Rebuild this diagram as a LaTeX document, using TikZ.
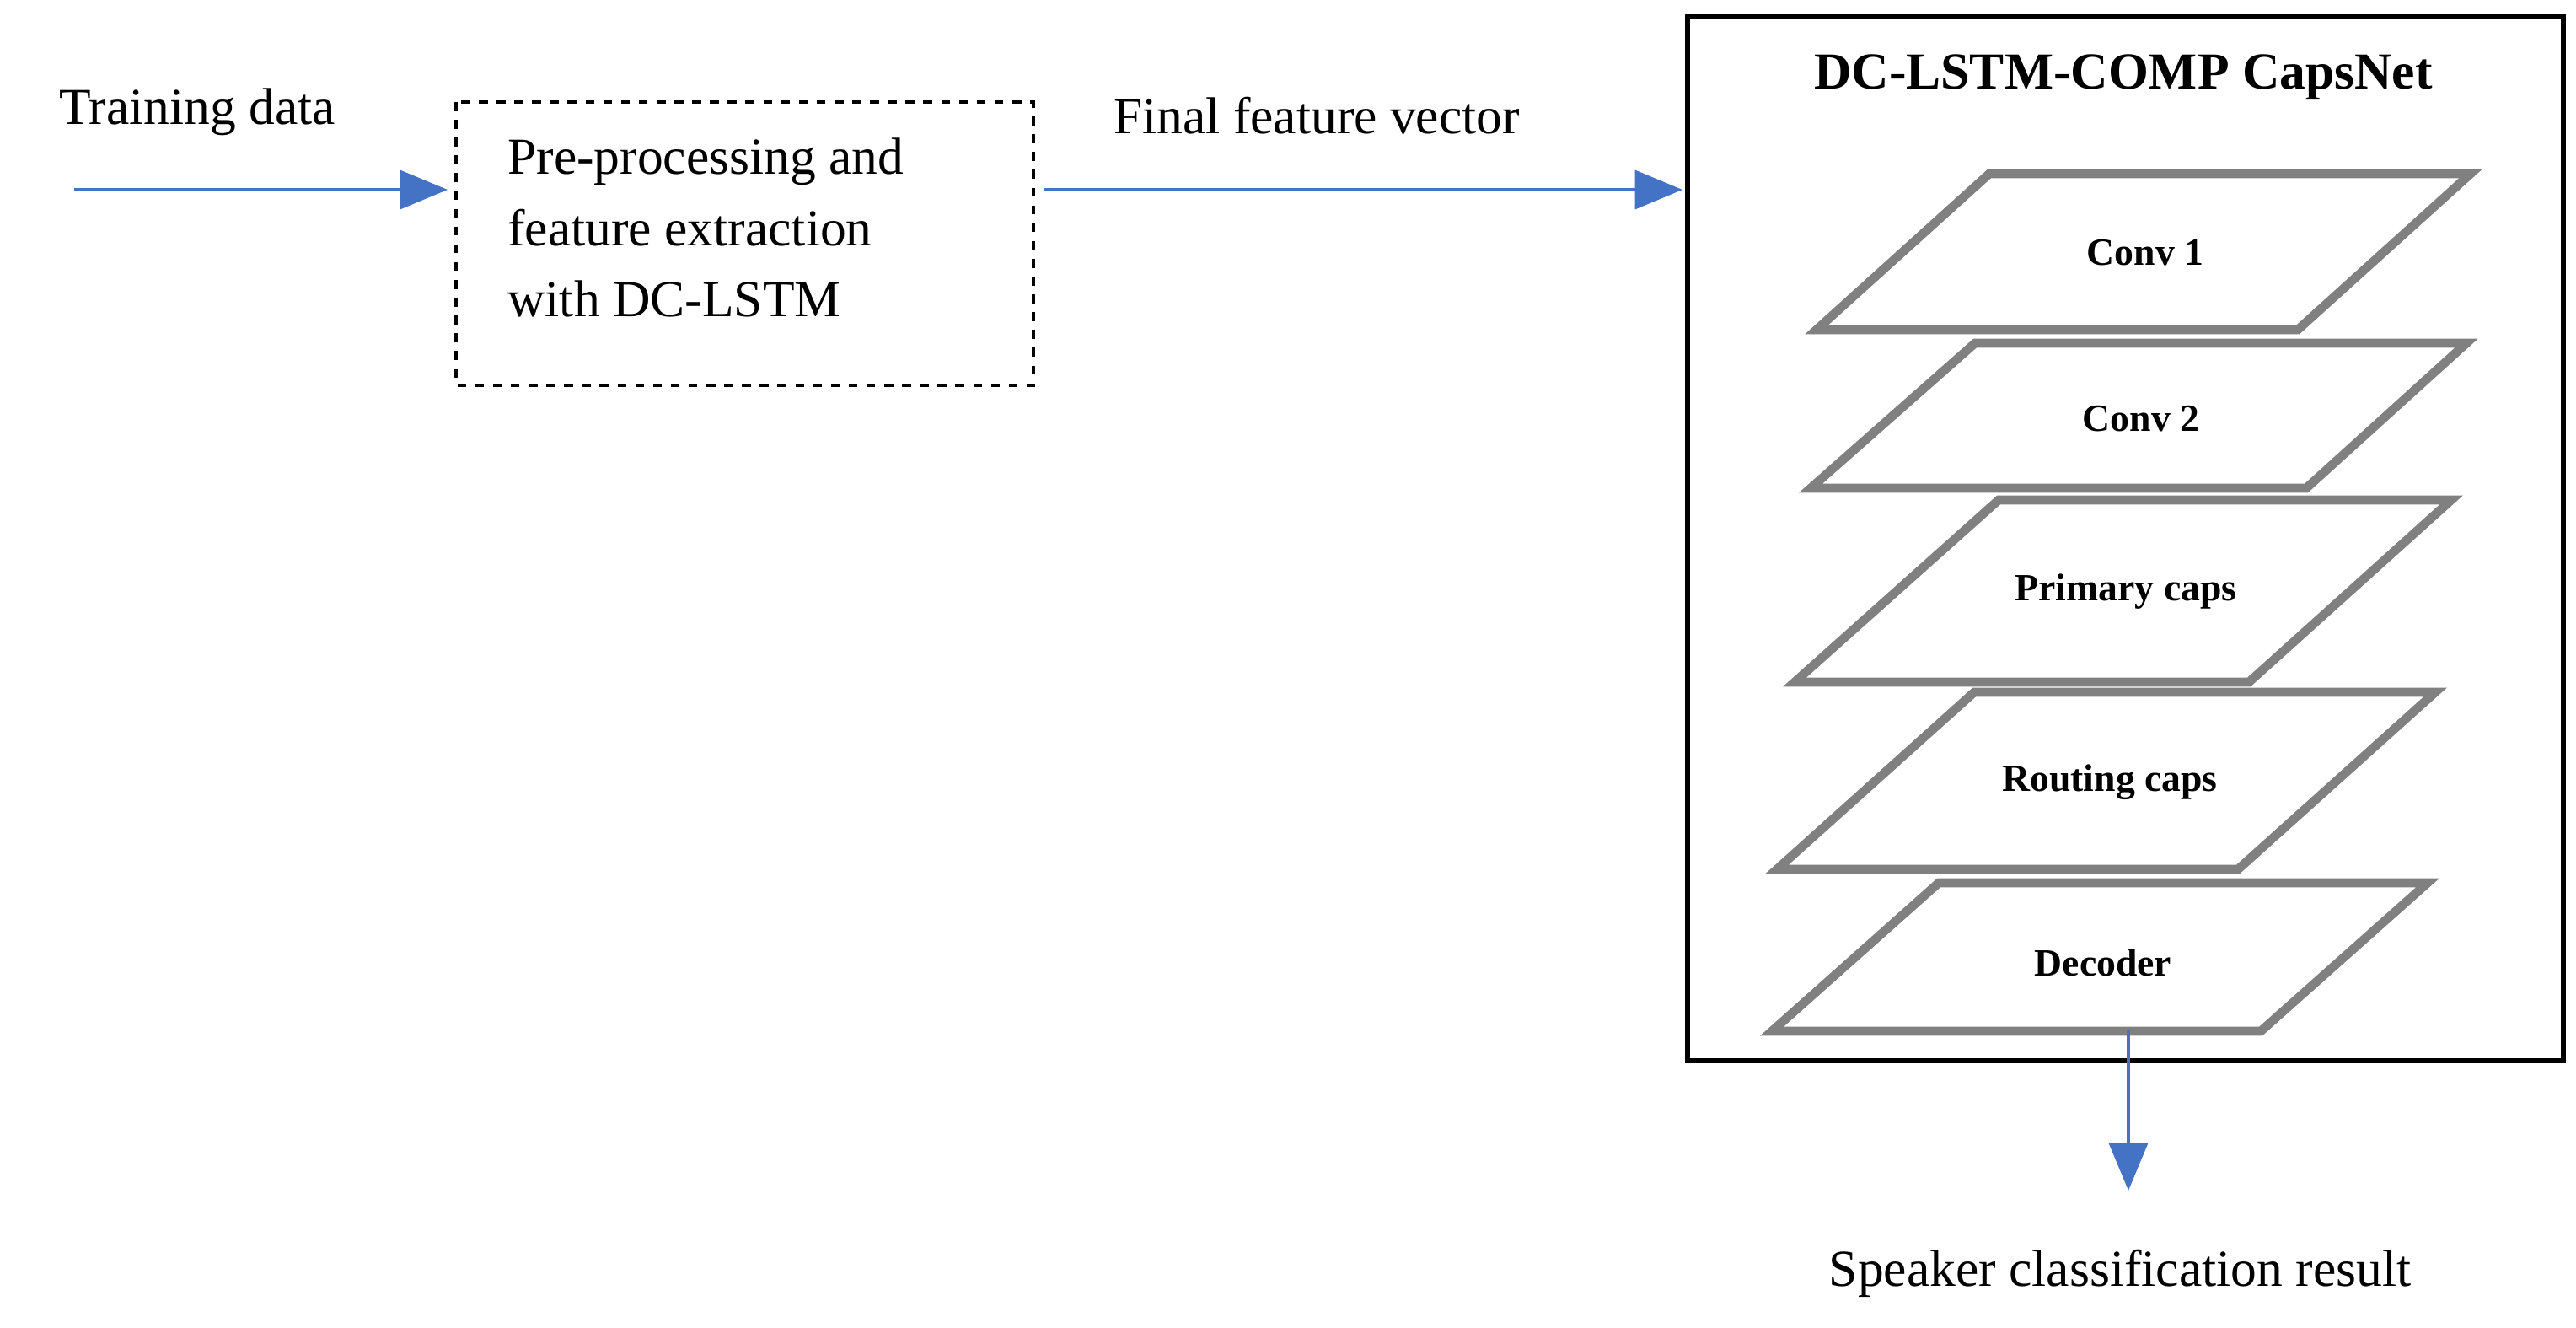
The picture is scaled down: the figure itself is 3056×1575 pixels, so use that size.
\documentclass[tikz,border=0pt]{standalone}
\usepackage{fontspec}
\setmainfont{Liberation Serif}
\usetikzlibrary{arrows.meta}
\begin{document}
\begin{tikzpicture}[x=0.01cm,y=-0.01cm,
  flow/.style={draw=blue!60!black!60!cyan, draw={rgb,255:red,68;green,114;blue,196}, line width=1.2pt, -{Triangle[length=16pt,width=13pt]}},
  layer/.style={draw={rgb,255:red,128;green,128;blue,128}, line width=3pt},
  lbl/.style={font=\fontsize{13}{15}\selectfont\bfseries},
  txt/.style={font=\fontsize{17.5}{24}\selectfont}]
\useasboundingbox (0,0) rectangle (3056,1575);
\draw[line width=1.5pt] (2002,20) rectangle (3041,1258);
\node[font=\fontsize{17.5}{20}\selectfont\bfseries] (title) at (2519,92) {DC-LSTM-COMP CapsNet};
\draw[dashed, line width=1.2pt] (541,121) rectangle (1226,457);
\node (pre) at (883,289) {};
\node[txt, align=left, anchor=west] (pret) at (590,270) {Pre-processing and\\feature extraction\\with DC-LSTM};
\coordinate (preW) at (531,225);
\coordinate (preE) at (1238,225);
\coordinate (in) at (88,225);
\coordinate (capsW) at (1996,225);
\node[txt] (td) at (234,133) {Training data};
\node[txt] (ffv) at (1562,137) {Final feature vector};
\draw[flow] (in) -- (preW);
\draw[flow] (preE) -- (capsW);
% layers
\draw[layer] (2360,206) -- (2931,206) -- (2726,391) -- (2155,391) -- cycle;
\node[lbl] (c1) at (2545,300) {Conv 1};
\draw[layer] (2343,407) -- (2926,407) -- (2736,579) -- (2148,579) -- cycle;
\node[lbl] (c2) at (2540,497) {Conv 2};
\draw[layer] (2371,593) -- (2908,593) -- (2668,809) -- (2129,809) -- cycle;
\node[lbl] (pc) at (2522,702) {Primary caps};
\draw[layer] (2342,821) -- (2889,821) -- (2655,1031) -- (2108,1031) -- cycle;
\node[lbl] (rc) at (2503,928) {Routing caps};
\draw[layer] (2300,1047) -- (2880,1047) -- (2682,1223) -- (2102,1223) -- cycle;
\node[lbl] (dec) at (2495,1142) {Decoder};
\coordinate (decB) at (2525,1221);
\coordinate (outE) at (2525,1412);
\draw[flow] (decB) -- (outE);
\node[txt] (res) at (2515,1510) {Speaker classification result};
\end{tikzpicture}
\end{document}
